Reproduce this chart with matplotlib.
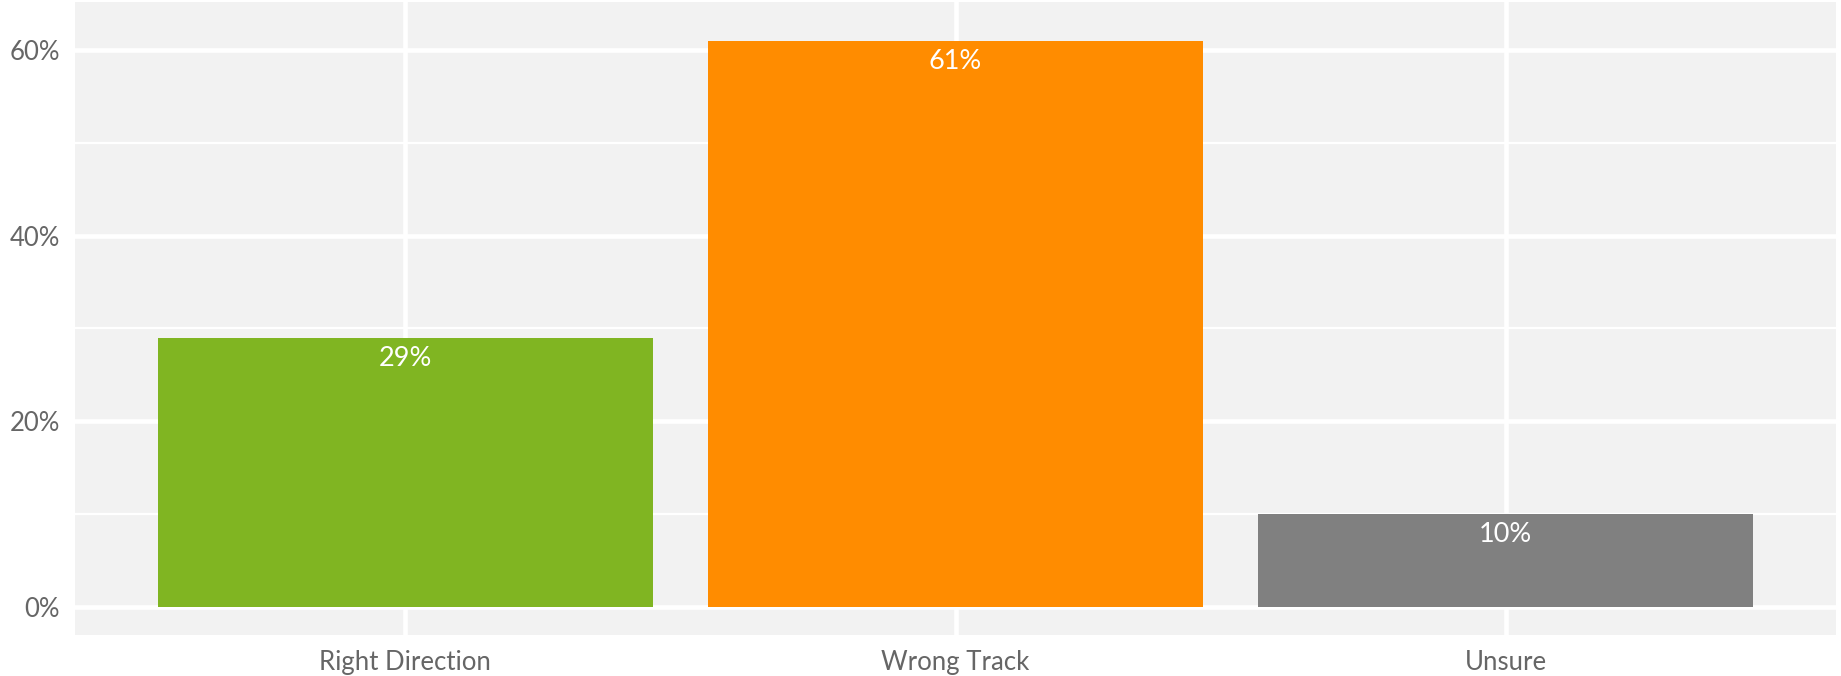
import matplotlib.pyplot as plt
from matplotlib.ticker import FixedLocator

# survey answers
categories = ["Right Direction", "Wrong Track", "Unsure"]
shares = [29, 61, 10]
bar_colors = ["#80B522", "#FF8C00", "#808080"]

major_ticks = [0, 20, 40, 60]
minor_ticks = [10, 30, 50]
tick_labels = ["0%", "20%", "40%", "60%"]

plt.rcParams['font.family'] = ['Lato', 'DejaVu Sans']

fig = plt.figure(figsize=(18.41, 6.76), dpi=100)
ax = fig.add_axes([75 / 1841, 41 / 676, (1836 - 75) / 1841, (635 - 2) / 676])

ax.set_facecolor('#F2F2F2')
for s in ax.spines.values():
    s.set_visible(False)

x = list(range(len(categories)))
ax.bar(x, shares, width=0.9, color=bar_colors, zorder=3)

for xi, v in zip(x, shares):
    ax.annotate(f"{v}%", (xi, v), xytext=(0, -6), textcoords='offset points',
                ha='center', va='top', color='white', fontsize=19.5, zorder=4)

ax.set_xlim(-0.6, len(categories) - 0.4)
ax.set_ylim(-3.02, 65.17)

ax.set_xticks(x)
ax.set_xticklabels(categories)
ax.yaxis.set_major_locator(FixedLocator(major_ticks))
ax.set_yticklabels(tick_labels)
ax.yaxis.set_minor_locator(FixedLocator(minor_ticks))

ax.grid(which='major', axis='both', color='white', linewidth=3.3, zorder=1)
ax.grid(which='minor', axis='y', color='white', linewidth=1.6, zorder=1)
ax.set_axisbelow(True)

ax.tick_params(axis='both', which='both', length=0, labelsize=18.5, labelcolor='#666666')
ax.tick_params(axis='y', pad=11)
ax.tick_params(axis='x', pad=11)

fig.savefig('out.png', dpi=100)
